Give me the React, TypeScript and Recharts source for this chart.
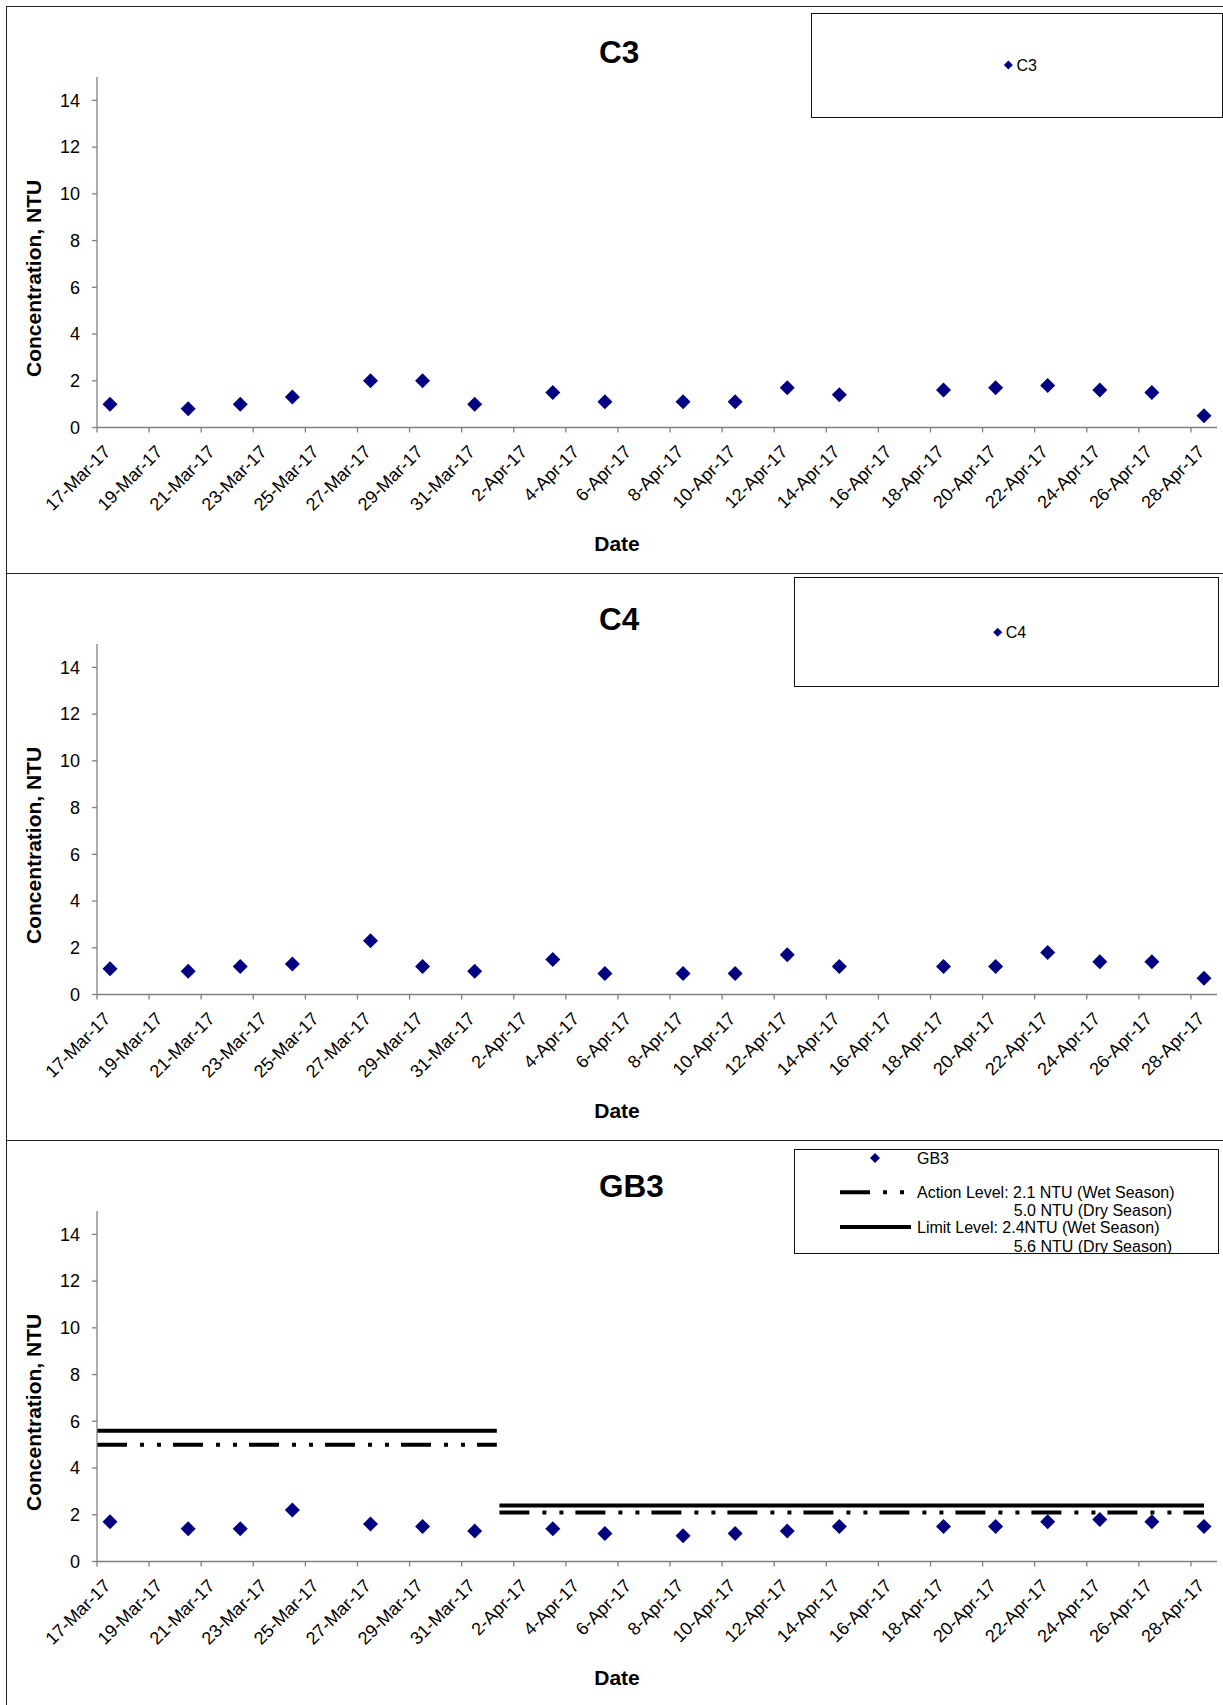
import React from "react";
import { ComposedChart, Line, Scatter, XAxis, YAxis } from "recharts";

// Turbidity monitoring, 17-Mar-17 .. 28-Apr-17, three stations stacked like the Excel sheet.
const tickLabels = [
  "17-Mar-17", "19-Mar-17", "21-Mar-17", "23-Mar-17", "25-Mar-17", "27-Mar-17",
  "29-Mar-17", "31-Mar-17", "2-Apr-17", "4-Apr-17", "6-Apr-17", "8-Apr-17",
  "10-Apr-17", "12-Apr-17", "14-Apr-17", "16-Apr-17", "18-Apr-17", "20-Apr-17",
  "22-Apr-17", "24-Apr-17", "26-Apr-17", "28-Apr-17",
];

const sampleDates = [
  "2017-03-17", "2017-03-20", "2017-03-22", "2017-03-24", "2017-03-27", "2017-03-29",
  "2017-03-31", "2017-04-03", "2017-04-05", "2017-04-08", "2017-04-10", "2017-04-12",
  "2017-04-14", "2017-04-18", "2017-04-20", "2017-04-22", "2017-04-24", "2017-04-26",
  "2017-04-28",
];

const c3 = [1.0, 0.8, 1.0, 1.3, 2.0, 2.0, 1.0, 1.5, 1.1, 1.1, 1.1, 1.7, 1.4, 1.6, 1.7, 1.8, 1.6, 1.5, 0.5];
const c4 = [1.1, 1.0, 1.2, 1.3, 2.3, 1.2, 1.0, 1.5, 0.9, 0.9, 0.9, 1.7, 1.2, 1.2, 1.2, 1.8, 1.4, 1.4, 0.7];
const gb3 = [1.7, 1.4, 1.4, 2.2, 1.6, 1.5, 1.3, 1.4, 1.2, 1.1, 1.2, 1.3, 1.5, 1.5, 1.5, 1.7, 1.8, 1.7, 1.5];

const actionLevel = { dry: 5.0, wet: 2.1 };
const limitLevel = { dry: 5.6, wet: 2.4 };
// where the level lines run, in days from 17-Mar (dry ends ~1-Apr)
const drySpan = [0, 15.35];
const wetSpan = [15.45, 42.5];

const yTicks = [0, 2, 4, 6, 8, 10, 12, 14];

const FONT = '"Liberation Sans", Arial, sans-serif';
const NAVY = "#000080";
const AXIS = "#808080";
const W = 1223;
const PANEL_H = 567;
const PLOT_LEFT = 97;
const PLOT_RIGHT = 6;
const N_DAYS = 43;
const SLOT = (W - PLOT_LEFT - PLOT_RIGHT) / N_DAYS;
const ACTION_DASH = "30 13 4 13 4 12";
const TICK_FONT = 18;

const DAY_MS = 86400000;
const dayOf = (iso: string) => Math.round((Date.parse(iso) - Date.parse(sampleDates[0])) / DAY_MS);
const xTicks = tickLabels.map((_, i) => i * 2);

// Excel date axis: each day is a slot, marker sits in the middle of it
const toPoints = (values: number[]) => sampleDates.map((d, i) => ({ x: dayOf(d) + 0.5, y: values[i] }));

const levelLine = (lv: { dry: number; wet: number }) => [
  { x: drySpan[0], y: lv.dry },
  { x: drySpan[1], y: lv.dry },
  { x: (drySpan[1] + wetSpan[0]) / 2, y: null },
  { x: wetSpan[0], y: lv.wet },
  { x: wetSpan[1], y: lv.wet },
];

function Diamond(props: any) {
  const { cx, cy } = props;
  const r = 7.5;
  return <polygon points={`${cx},${cy - r} ${cx + r},${cy} ${cx},${cy + r} ${cx - r},${cy}`} fill={NAVY} />;
}

function DateTick(props: any) {
  const { x, y, payload } = props;
  const tx = x + SLOT / 2 + 1.5;
  const ty = y + 18.5;
  return (
    <text x={tx} y={ty} transform={`rotate(-45 ${tx} ${ty})`} textAnchor="end" fontSize={TICK_FONT} fontFamily={FONT} fill="#000">
      {tickLabels[Math.round(payload.value / 2)]}
    </text>
  );
}

function LegendDiamond({ x, y, r }: { x: number; y: number; r: number }) {
  return <polygon points={`${x},${y - r} ${x + r},${y} ${x},${y + r} ${x - r},${y}`} fill={NAVY} />;
}

function SimpleLegend({ name, box, marker }: { name: string; box: number[]; marker: number[] }) {
  const [left, top, width, height] = box;
  return (
    <div style={{ position: "absolute", left, top, width, height, border: "1px solid #111", boxSizing: "border-box", background: "#fff" }}>
      <svg width={width} height={height} style={{ position: "absolute", left: -1, top: -1 }}>
        <LegendDiamond x={marker[0]} y={marker[1]} r={4.5} />
        <text x={marker[0] + 8} y={marker[1]} dominantBaseline="central" fontSize={16} fontFamily={FONT} fill="#000">
          {name}
        </text>
      </svg>
    </div>
  );
}

function GB3Legend() {
  const left = 794, top = 9.4, width = 425, height = 105;
  const tx = 123;
  const txt = { fontSize: 16, fontFamily: FONT, fill: "#000", dominantBaseline: "central" as const };
  return (
    <div style={{ position: "absolute", left, top, width, height, border: "1px solid #111", boxSizing: "border-box", background: "#fff" }}>
      <svg width={width} height={height} style={{ position: "absolute", left: -1, top: -1 }}>
        <LegendDiamond x={81} y={9} r={5} />
        <text x={tx} y={9} {...txt}>GB3</text>
        <line x1={46} x2={110} y1={43.3} y2={43.3} stroke="#000" strokeWidth={4} strokeDasharray={ACTION_DASH} />
        <text x={tx} y={43.3} {...txt}>Action Level: 2.1 NTU (Wet Season)</text>
        <text x={378} y={61.6} textAnchor="end" {...txt}>5.0 NTU (Dry Season)</text>
        <line x1={46} x2={117} y1={78.1} y2={78.1} stroke="#000" strokeWidth={4} />
        <text x={tx} y={78.1} {...txt}>Limit Level: 2.4NTU (Wet Season)</text>
        <text x={378} y={97.2} textAnchor="end" {...txt}>5.6 NTU (Dry Season)</text>
      </svg>
    </div>
  );
}

function Panel({ top, title, values, levels, legend }: { top: number; title: string; values: number[]; levels: boolean; legend: React.ReactNode }) {
  return (
    <div style={{ position: "absolute", left: 0, top, width: W, height: PANEL_H }}>
      <div style={{ position: "absolute", left: 6, top: 0, width: W, height: PANEL_H + 20, borderTop: "1px solid #222", borderLeft: "1px solid #222" }} />
      <div style={{ position: "absolute", left: 0, top: 0 }}>
        <ComposedChart width={W} height={PANEL_H} margin={{ top: 71, right: PLOT_RIGHT, bottom: 45.5, left: 0 }}>
          <XAxis
            type="number"
            dataKey="x"
            domain={[0, N_DAYS]}
            ticks={xTicks}
            interval={0}
            allowDataOverflow
            height={100}
            tickSize={5}
            tickMargin={2}
            axisLine={{ stroke: AXIS, strokeWidth: 1.3 }}
            tickLine={{ stroke: AXIS, strokeWidth: 1.3 }}
            tick={(p: any) => <DateTick {...p} />}
          />
          <YAxis
            type="number"
            dataKey="y"
            domain={[0, 15]}
            ticks={yTicks}
            interval={0}
            allowDataOverflow
            width={PLOT_LEFT}
            tickSize={5}
            tickMargin={12}
            axisLine={{ stroke: AXIS, strokeWidth: 1.3 }}
            tickLine={{ stroke: AXIS, strokeWidth: 1.3 }}
            tick={{ fill: "#000", fontSize: TICK_FONT, fontFamily: FONT }}
          />
          {levels && (
            <Line
              data={levelLine(limitLevel)}
              dataKey="y"
              type="linear"
              stroke="#000"
              strokeWidth={4}
              dot={false}
              activeDot={false}
              isAnimationActive={false}
            />
          )}
          {levels && (
            <Line
              data={levelLine(actionLevel)}
              dataKey="y"
              type="linear"
              stroke="#000"
              strokeWidth={4}
              strokeDasharray={ACTION_DASH}
              dot={false}
              activeDot={false}
              isAnimationActive={false}
            />
          )}
          <Scatter data={toPoints(values)} dataKey="y" fill={NAVY} shape={Diamond} isAnimationActive={false} />
        </ComposedChart>
      </div>
      <svg width={W} height={PANEL_H} style={{ position: "absolute", left: 0, top: 0, pointerEvents: "none" }}>
        <text x={599} y={57} fontSize={31.5} fontWeight="bold" fontFamily={FONT} fill="#000">
          {title}
        </text>
        <text transform="translate(40.7 272.4) rotate(-90)" textAnchor="middle" fontSize={21} fontWeight="bold" fontFamily={FONT} fill="#000">
          Concentration, NTU
        </text>
        <text x={617} y={545} textAnchor="middle" fontSize={21} fontWeight="bold" fontFamily={FONT} fill="#000">
          Date
        </text>
      </svg>
      {legend}
    </div>
  );
}

export default function App() {
  return (
    <div style={{ position: "absolute", left: 0, top: 0, width: W, height: 1705, overflow: "hidden", background: "#fff" }}>
      <Panel
        top={6}
        title="C3"
        values={c3}
        levels={false}
        legend={<SimpleLegend name="C3" box={[811, 7, 412, 105]} marker={[197.4, 52]} />}
      />
      <Panel
        top={573}
        title="C4"
        values={c4}
        levels={false}
        legend={<SimpleLegend name="C4" box={[794, 4.3, 425, 110]} marker={[203.7, 55.2]} />}
      />
      <Panel top={1140} title="GB3" values={gb3} levels={true} legend={<GB3Legend />} />
    </div>
  );
}
